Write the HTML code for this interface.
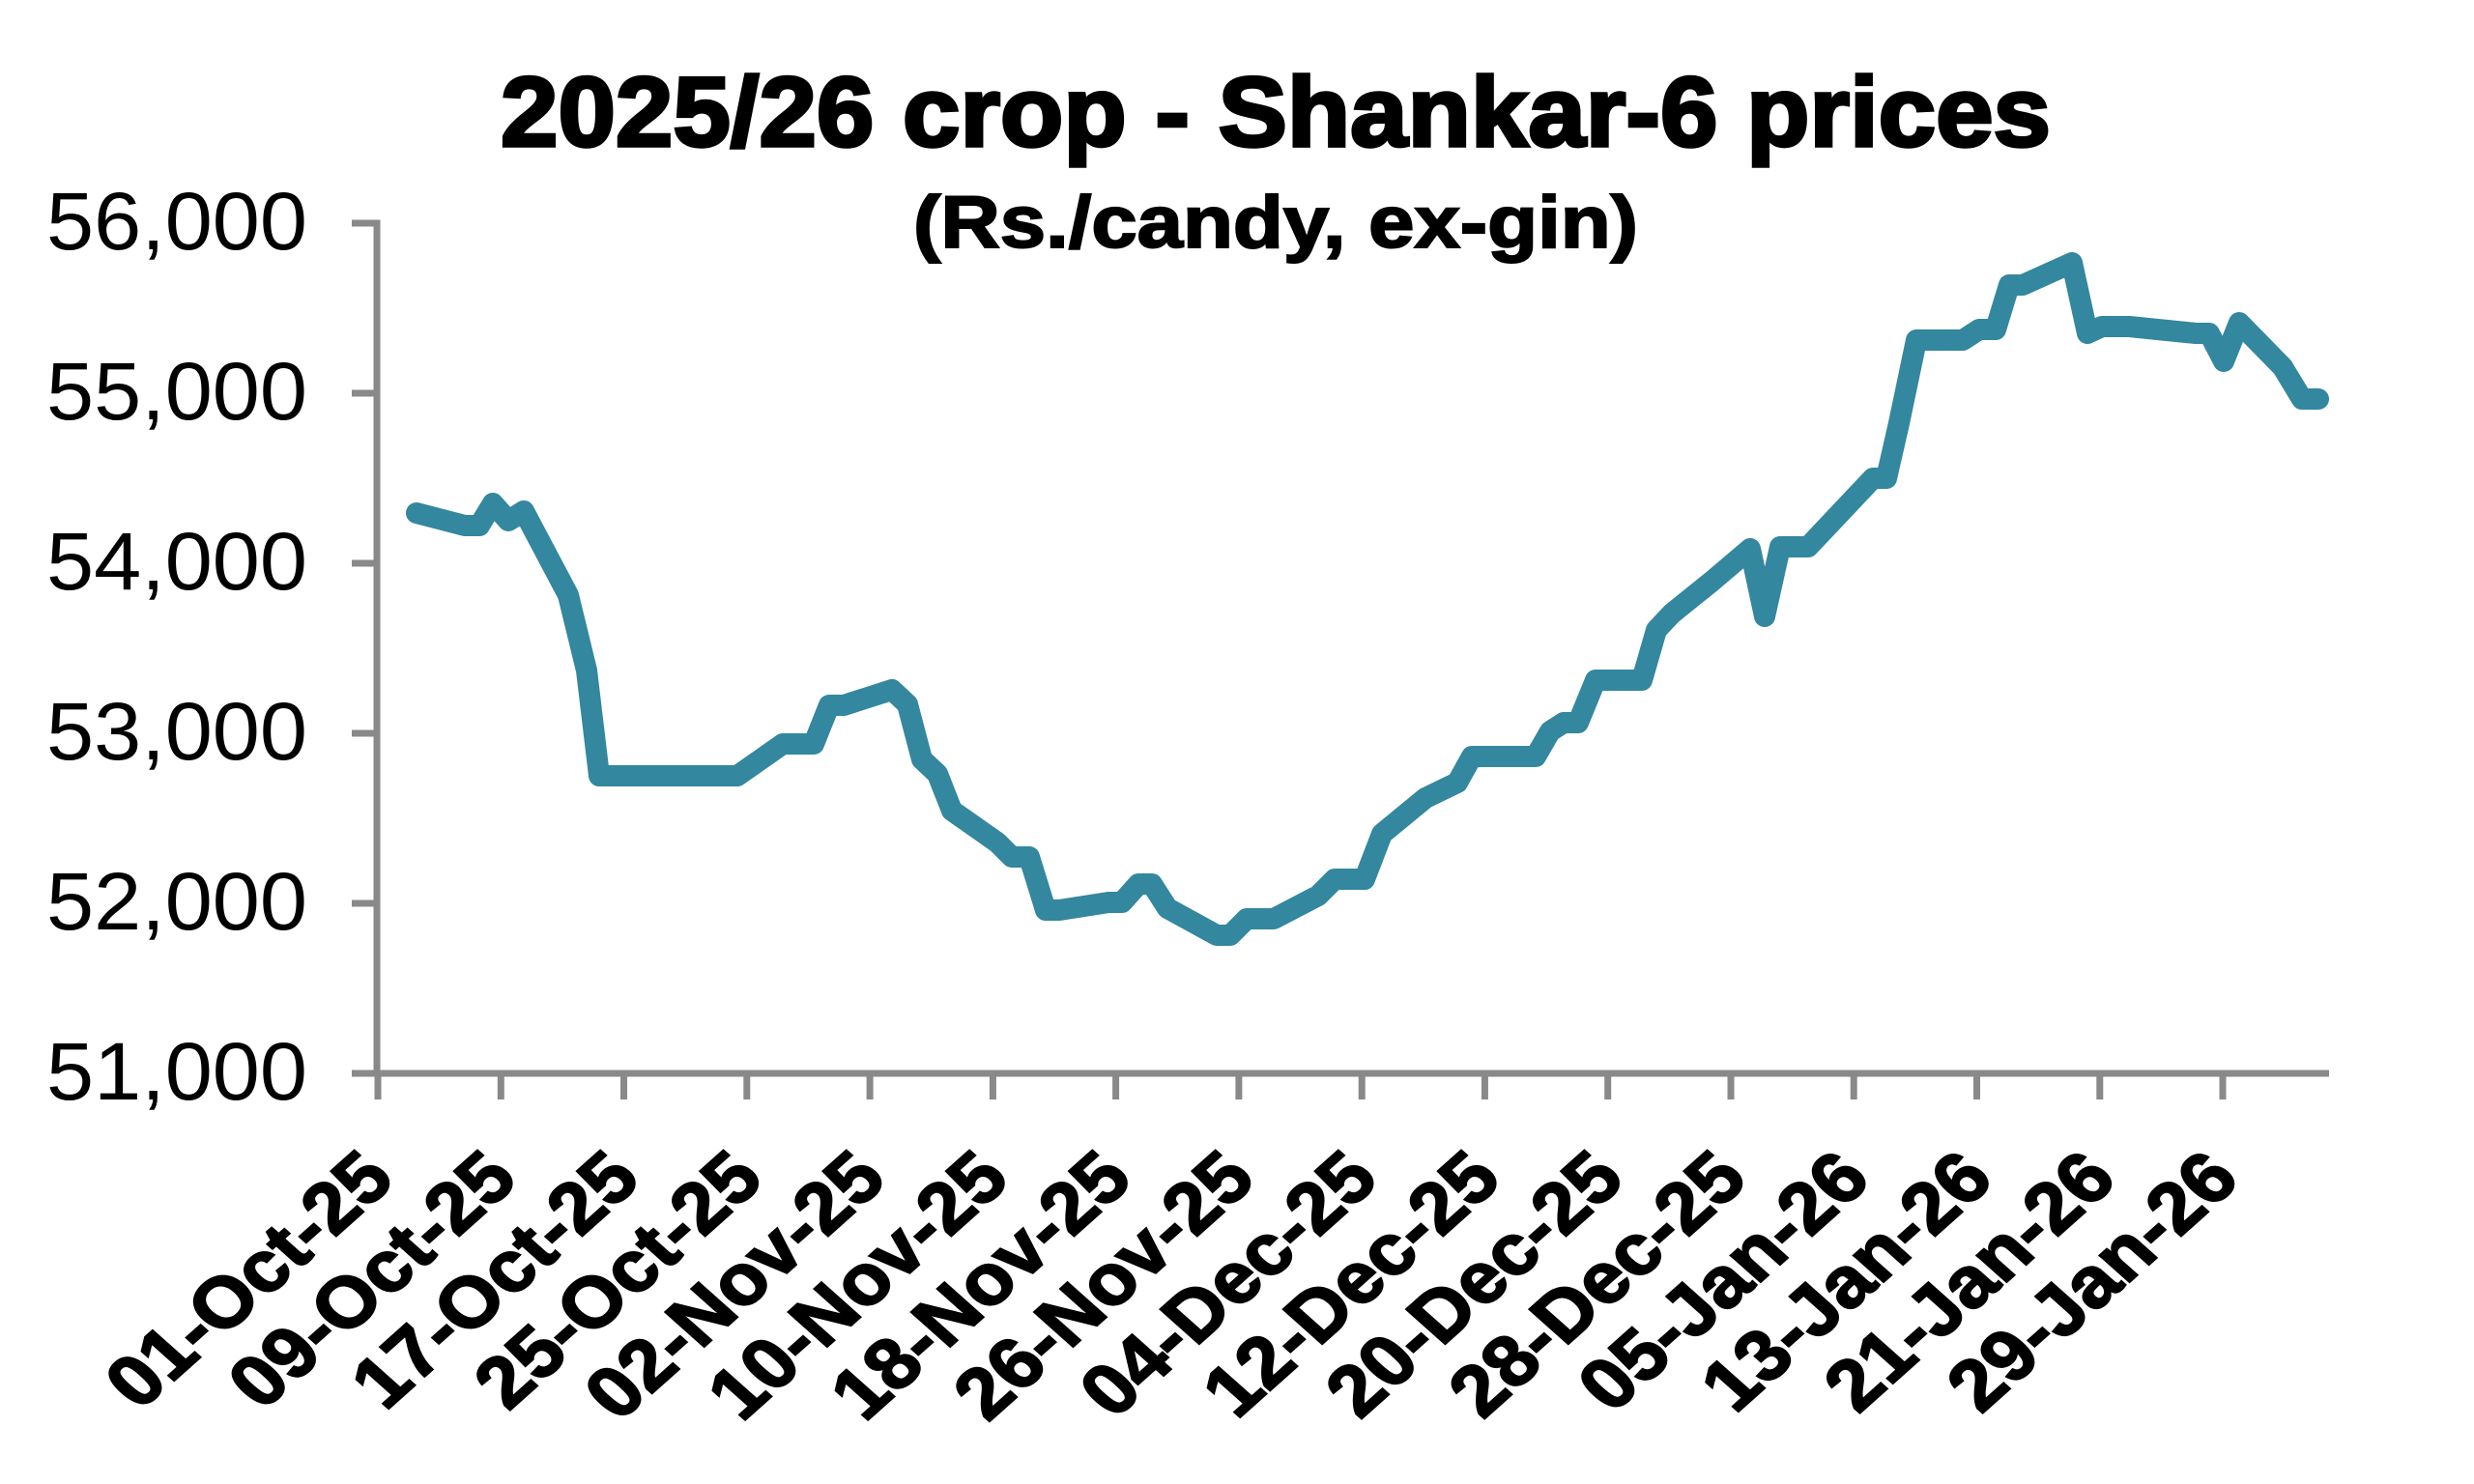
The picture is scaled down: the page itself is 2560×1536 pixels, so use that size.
<!DOCTYPE html>
<html>
<head>
<meta charset="utf-8">
<style>
  html,body{margin:0;padding:0;background:#fff;}
  svg{display:block;}
  .t{font-family:"Liberation Sans",Arial,sans-serif;}
</style>
</head>
<body>
<svg width="2560" height="1536" viewBox="0 0 2560 1536" xmlns="http://www.w3.org/2000/svg">
  <rect width="2560" height="1536" fill="#fff"/>
  <!-- Title -->
  <text class="t" x="518" y="151" font-size="102" font-weight="bold" fill="#000" stroke="#000" stroke-width="3.5" textLength="1604" lengthAdjust="spacingAndGlyphs">2025/26 crop - Shankar-6 prices</text>
  <text class="t" x="945" y="256" font-size="76" font-weight="bold" fill="#000" stroke="#000" stroke-width="2" textLength="750" lengthAdjust="spacingAndGlyphs">(Rs./candy, ex-gin)</text>

  <!-- Axes -->
  <g stroke="#898989" stroke-width="7" fill="none">
    <line x1="390" y1="227.5" x2="390" y2="1114"/>
    <line x1="364" y1="1111" x2="2410" y2="1111"/>
    <line x1="364" y1="231" x2="393" y2="231"/>
    <line x1="364" y1="407" x2="390" y2="407"/>
    <line x1="364" y1="583" x2="390" y2="583"/>
    <line x1="364" y1="759" x2="390" y2="759"/>
    <line x1="364" y1="935" x2="390" y2="935"/>
    <line x1="391" y1="1111" x2="391" y2="1138"/>
    <line x1="518.3" y1="1111" x2="518.3" y2="1138"/>
    <line x1="645.5" y1="1111" x2="645.5" y2="1138"/>
    <line x1="772.8" y1="1111" x2="772.8" y2="1138"/>
    <line x1="900.1" y1="1111" x2="900.1" y2="1138"/>
    <line x1="1027.4" y1="1111" x2="1027.4" y2="1138"/>
    <line x1="1154.6" y1="1111" x2="1154.6" y2="1138"/>
    <line x1="1281.9" y1="1111" x2="1281.9" y2="1138"/>
    <line x1="1409.2" y1="1111" x2="1409.2" y2="1138"/>
    <line x1="1536.4" y1="1111" x2="1536.4" y2="1138"/>
    <line x1="1663.7" y1="1111" x2="1663.7" y2="1138"/>
    <line x1="1791" y1="1111" x2="1791" y2="1138"/>
    <line x1="1918.2" y1="1111" x2="1918.2" y2="1138"/>
    <line x1="2045.5" y1="1111" x2="2045.5" y2="1138"/>
    <line x1="2172.8" y1="1111" x2="2172.8" y2="1138"/>
    <line x1="2300" y1="1111" x2="2300" y2="1138"/>
  </g>

  <!-- Y labels -->
  <g class="t" font-size="84" fill="#000">
    <text x="48" y="258" textLength="270" lengthAdjust="spacingAndGlyphs">56,000</text>
    <text x="48" y="434" textLength="270" lengthAdjust="spacingAndGlyphs">55,000</text>
    <text x="48" y="610" textLength="270" lengthAdjust="spacingAndGlyphs">54,000</text>
    <text x="48" y="786" textLength="270" lengthAdjust="spacingAndGlyphs">53,000</text>
    <text x="48" y="962" textLength="270" lengthAdjust="spacingAndGlyphs">52,000</text>
    <text x="48" y="1138" textLength="270" lengthAdjust="spacingAndGlyphs">51,000</text>
  </g>

  <!-- X labels -->
  <g class="t" font-size="74" font-weight="bold" fill="#000" stroke="#000" stroke-width="2" text-anchor="end">
    <text transform="translate(411,1223) scale(1.12,1) rotate(-45)">01-Oct-25</text>
    <text transform="translate(538.3,1223) scale(1.12,1) rotate(-45)">09-Oct-25</text>
    <text transform="translate(665.5,1223) scale(1.12,1) rotate(-45)">17-Oct-25</text>
    <text transform="translate(792.8,1223) scale(1.12,1) rotate(-45)">25-Oct-25</text>
    <text transform="translate(920.1,1223) scale(1.12,1) rotate(-45)">02-Nov-25</text>
    <text transform="translate(1047.4,1223) scale(1.12,1) rotate(-45)">10-Nov-25</text>
    <text transform="translate(1174.6,1223) scale(1.12,1) rotate(-45)">18-Nov-25</text>
    <text transform="translate(1301.9,1223) scale(1.12,1) rotate(-45)">26-Nov-25</text>
    <text transform="translate(1429.2,1223) scale(1.12,1) rotate(-45)">04-Dec-25</text>
    <text transform="translate(1556.4,1223) scale(1.12,1) rotate(-45)">12-Dec-25</text>
    <text transform="translate(1683.7,1223) scale(1.12,1) rotate(-45)">20-Dec-25</text>
    <text transform="translate(1811,1223) scale(1.12,1) rotate(-45)">28-Dec-25</text>
    <text transform="translate(1938.2,1223) scale(1.12,1) rotate(-45)">05-Jan-26</text>
    <text transform="translate(2065.5,1223) scale(1.12,1) rotate(-45)">13-Jan-26</text>
    <text transform="translate(2192.8,1223) scale(1.12,1) rotate(-45)">21-Jan-26</text>
    <text transform="translate(2320,1223) scale(1.12,1) rotate(-45)">29-Jan-26</text>
  </g>

  <!-- Series -->
  <polyline fill="none" stroke="#33879E" stroke-width="22" stroke-linejoin="round" stroke-linecap="round"
    points="431,531 481,544 496,544 510,521 526,539 542,529 588,616 607,694 620,803 763,803 810,770 842,770 858,730 873,730 923,714 939,729 954,786 970,801 985,839 1032,872 1047,887 1065,887 1082,942 1096,942 1147,934 1161,934 1178,915 1192,915 1208,940 1259,968 1273,968 1290,951 1318,951 1364,927 1381,910 1412,910 1430,863 1475,826 1508,810 1523,783 1589,783 1604,757 1618,748 1633,748 1651,704 1699,704 1714,652 1730,635 1771,602 1811,568 1826,638 1842,566 1871,566 1938,495 1952,495 1965,438 1983,352 2031,352 2048,341 2065,341 2079,295 2093,295 2144,272 2160,345 2175,338 2203,338 2272,345 2286,345 2301,374 2317,334 2362,380 2382,413 2399,413"/>
</svg>
</body>
</html>
